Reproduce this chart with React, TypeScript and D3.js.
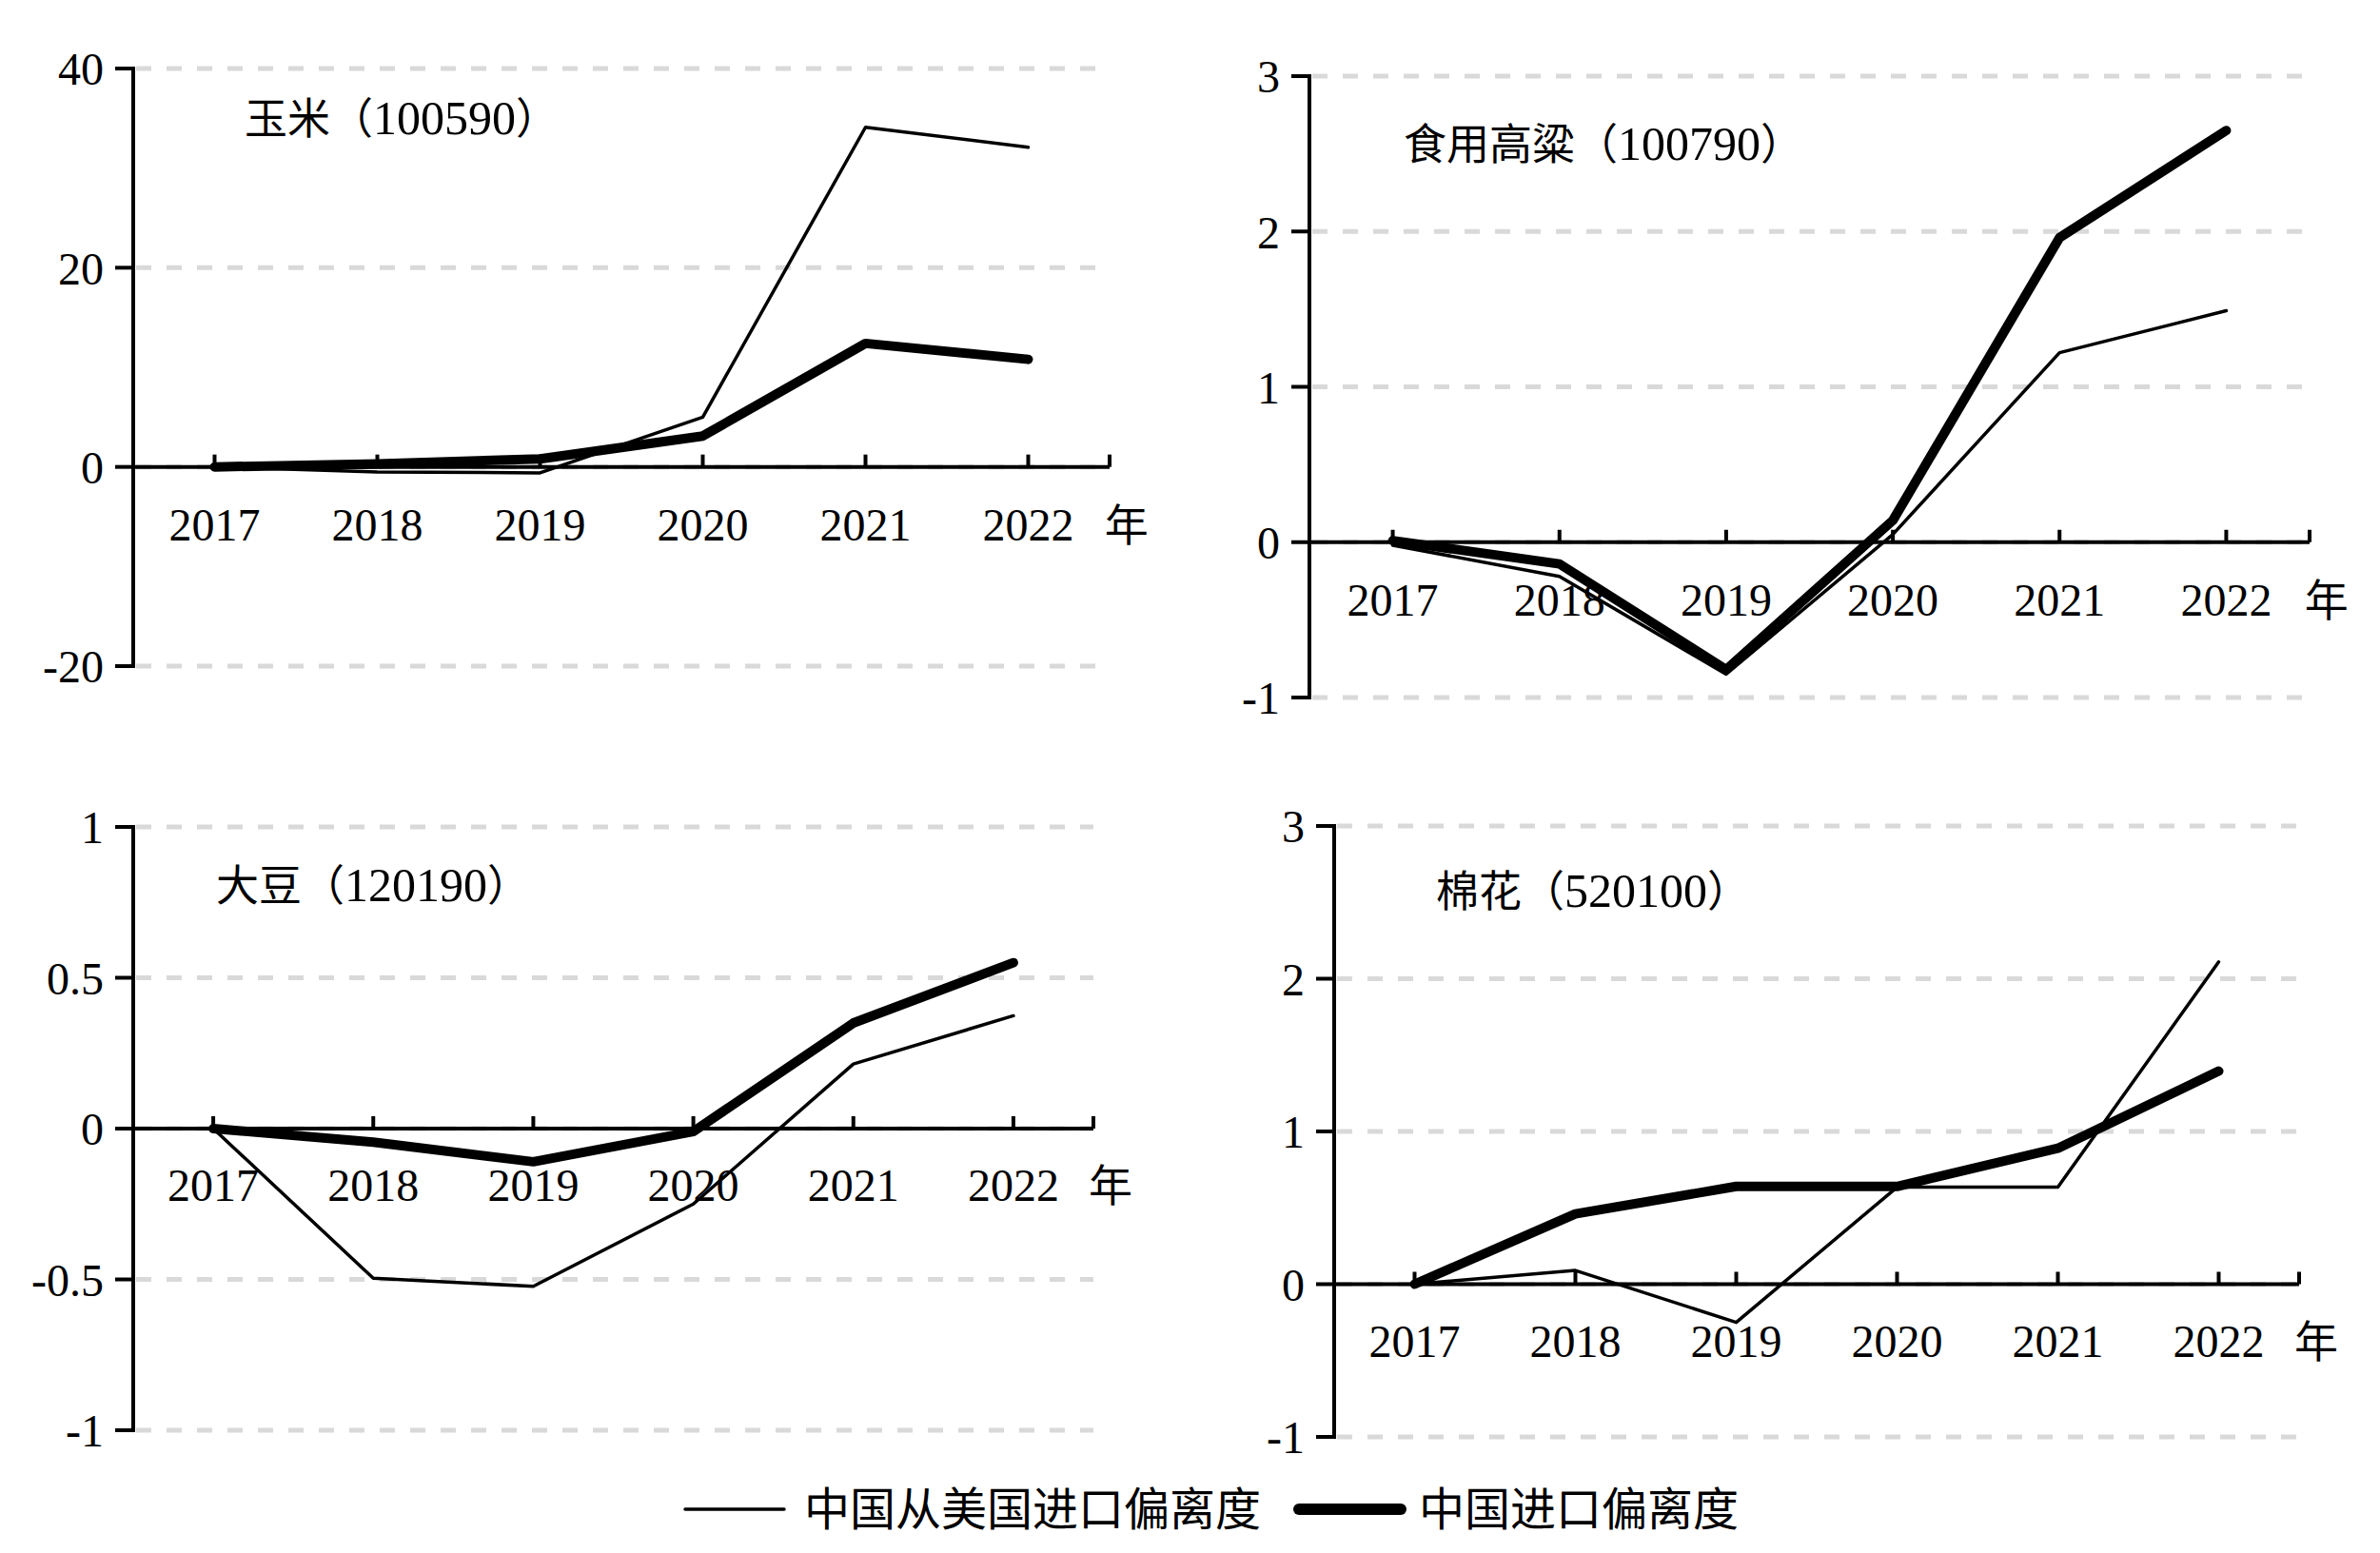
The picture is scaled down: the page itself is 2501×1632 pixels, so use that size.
import * as d3 from 'd3';

// categories
const years = ['2017', '2018', '2019', '2020', '2021', '2022'];

// 玉米
const cornTicks = [-20, 0, 20, 40];
const cornFromUS = [0, -0.5, -0.6, 5.0, 34.1, 32.1];
const cornTotal = [0, 0.3, 0.8, 3.1, 12.4, 10.8];

// 食用高粱
const sorghumTicks = [-1, 0, 1, 2, 3];
const sorghumFromUS = [-0.02, -0.22, -0.85, 0.05, 1.22, 1.49];
const sorghumTotal = [0.01, -0.14, -0.82, 0.14, 1.96, 2.65];

// 大豆
const soyTicks = [-1, -0.5, 0, 0.5, 1];
const soyFromUS = [0, -0.496, -0.523, -0.25, 0.214, 0.374];
const soyTotal = [0, -0.045, -0.11, -0.01, 0.35, 0.55];

// 棉花
const cottonTicks = [-1, 0, 1, 2, 3];
const cottonFromUS = [0, 0.09, -0.25, 0.635, 0.635, 2.11];
const cottonTotal = [0, 0.46, 0.64, 0.64, 0.89, 1.395];

const legendLabels = ['中国从美国进口偏离度', '中国进口偏离度'];

const FONT = '"Liberation Serif", "Times New Roman", "Noto Sans CJK SC", serif';
const GRID = '#d9d9d9';
const THIN = 3.5;
const THICK = 10;

type PanelProps = {
  name: string;
  code: string;
  ticks: number[];
  fromUS: number[];
  total: number[];
  left: number;
  right: number;
  top: number;
  bottom: number;
  titleX: number;
  titleY: number;
  yearY: number;
};

const Panel = ({name, code, ticks, fromUS, total, left, right, top, bottom, titleX, titleY, yearY}: PanelProps) => {
  const x = d3.scaleBand().domain(years).range([left, right]).padding(0);
  const y = d3
    .scaleLinear()
    .domain([d3.min(ticks)!, d3.max(ticks)!])
    .range([bottom, top]);
  const cx = (d: string) => x(d)! + x.bandwidth() / 2;
  const line = d3
    .line<number>()
    .x((_, i) => cx(years[i]))
    .y((d) => y(d));
  const y0 = y(0);

  return (
    <g>
      {/* grid */}
      {ticks.map((t) => (
        <line
          key={'g' + t}
          x1={left + 3}
          x2={right}
          y1={y(t)}
          y2={y(t)}
          stroke={GRID}
          strokeWidth={5}
          strokeDasharray="16 16"
        />
      ))}
      {/* y axis */}
      <line x1={left} x2={left} y1={top - 2} y2={bottom + 2} stroke="#000" strokeWidth={4} />
      {ticks.map((t) => (
        <g key={'t' + t}>
          <line x1={left - 19} x2={left} y1={y(t)} y2={y(t)} stroke="#000" strokeWidth={4} />
          <text
            x={left - 31}
            y={y(t)}
            dy="0.36em"
            textAnchor="end"
            fontFamily={FONT}
            fontSize={48}
            fill="#000"
          >
            {String(t)}
          </text>
        </g>
      ))}
      {/* x axis at zero */}
      <line x1={left} x2={right} y1={y0} y2={y0} stroke="#000" strokeWidth={4} />
      {years.map((yr) => (
        <g key={yr}>
          <line x1={cx(yr)} x2={cx(yr)} y1={y0 - 13} y2={y0} stroke="#000" strokeWidth={4} />
          <text x={cx(yr)} y={yearY} textAnchor="middle" fontFamily={FONT} fontSize={48} fill="#000">
            {yr}
          </text>
        </g>
      ))}
      <line x1={right} x2={right} y1={y0 - 13} y2={y0} stroke="#000" strokeWidth={4} />
      <text
        x={cx(years[years.length - 1]) + x.bandwidth() * 0.47}
        y={yearY}
        fontFamily={FONT}
        fontSize={46}
        fill="#000"
      >
        年
      </text>
      {/* title */}
      <text x={titleX} y={titleY} fontFamily={FONT} fontSize={45} fill="#000">
        {name}（<tspan fontSize={50}>{code}</tspan>）
      </text>
      {/* series */}
      <path
        d={line(fromUS)!}
        fill="none"
        stroke="#000"
        strokeWidth={THIN}
        strokeLinejoin="round"
        strokeLinecap="round"
      />
      <path
        d={line(total)!}
        fill="none"
        stroke="#000"
        strokeWidth={THICK}
        strokeLinejoin="round"
        strokeLinecap="round"
      />
    </g>
  );
};

const App = () => {
  return (
    <svg
      width={2501}
      height={1632}
      style={{position: 'absolute', left: 0, top: 0, background: '#fff'}}
    >
      <rect width={2501} height={1632} fill="#fff" />
      <Panel
        name="玉米"
        code="100590"
        ticks={cornTicks}
        fromUS={cornFromUS}
        total={cornTotal}
        left={140}
        right={1166}
        top={72}
        bottom={700}
        titleX={257}
        titleY={141}
        yearY={568}
      />
      <Panel
        name="食用高粱"
        code="100790"
        ticks={sorghumTicks}
        fromUS={sorghumFromUS}
        total={sorghumTotal}
        left={1376}
        right={2427}
        top={80}
        bottom={733}
        titleX={1475}
        titleY={168}
        yearY={647}
      />
      <Panel
        name="大豆"
        code="120190"
        ticks={soyTicks}
        fromUS={soyFromUS}
        total={soyTotal}
        left={140}
        right={1149}
        top={869}
        bottom={1503}
        titleX={227}
        titleY={947}
        yearY={1262}
      />
      <Panel
        name="棉花"
        code="520100"
        ticks={cottonTicks}
        fromUS={cottonFromUS}
        total={cottonTotal}
        left={1402}
        right={2416}
        top={868}
        bottom={1510}
        titleX={1509}
        titleY={953}
        yearY={1426}
      />
      {/* legend */}
      <g fontFamily={FONT} fontSize={48} fill="#000">
        <line x1={720} x2={824} y1={1586} y2={1586} stroke="#000" strokeWidth={THIN} strokeLinecap="round" />
        <text x={845} y={1586} dy="0.36em">
          {legendLabels[0]}
        </text>
        <line x1={1365} x2={1472} y1={1586} y2={1586} stroke="#000" strokeWidth={THICK + 2} strokeLinecap="round" />
        <text x={1491} y={1586} dy="0.36em">
          {legendLabels[1]}
        </text>
      </g>
    </svg>
  );
};

export default App;
